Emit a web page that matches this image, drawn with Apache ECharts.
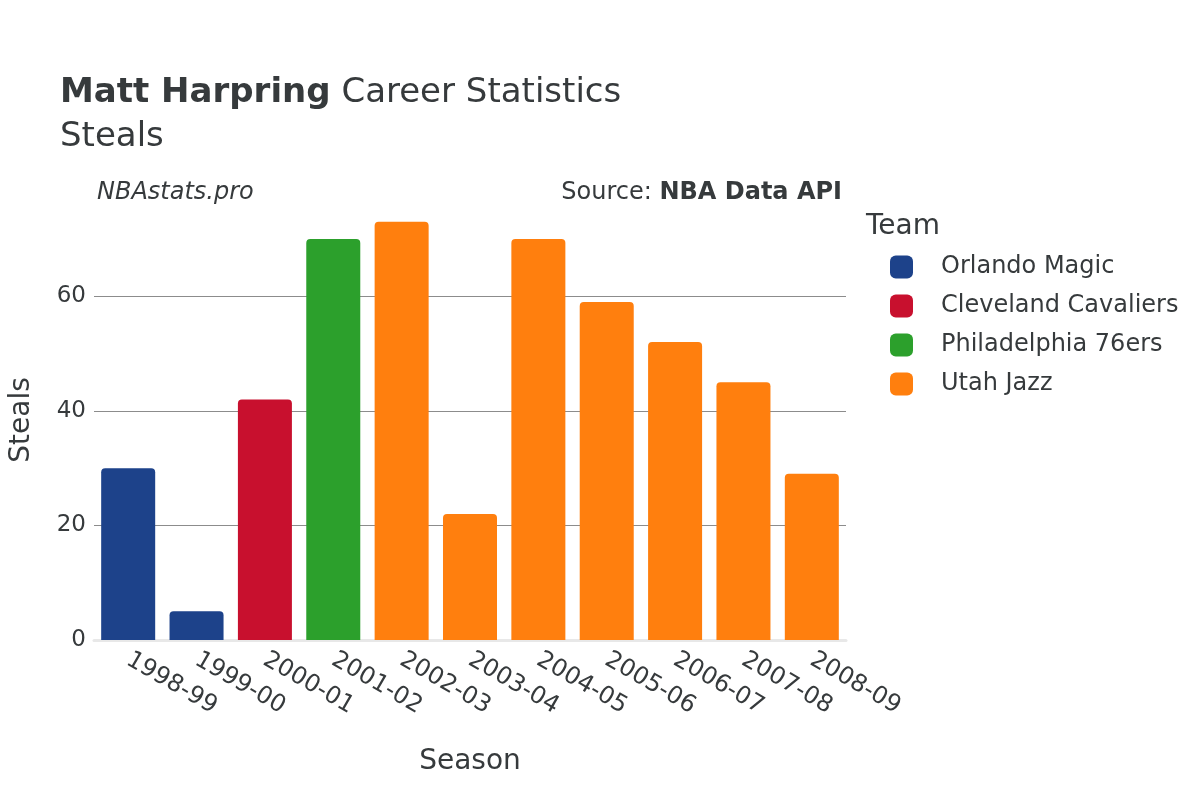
<!DOCTYPE html>
<html>
<head>
<meta charset="utf-8">
<script src="https://cdn.jsdelivr.net/npm/echarts@6/dist/echarts.min.js"></script>
<style>html,body{margin:0;padding:0;background:#fff}#c{width:1200px;height:800px}</style>
</head>
<body>
<div id="c"></div>
<script>
const seasons = ['1998-99','1999-00','2000-01','2001-02','2002-03','2003-04','2004-05','2005-06','2006-07','2007-08','2008-09'];
const teams = ['Orlando Magic','Cleveland Cavaliers','Philadelphia 76ers','Utah Jazz'];
const teamColors = ['#1d428a','#c8102e','#2ca02c','#ff7f0e'];
const seasonTeam = ['Orlando Magic','Orlando Magic','Cleveland Cavaliers','Philadelphia 76ers','Utah Jazz','Utah Jazz','Utah Jazz','Utah Jazz','Utah Jazz','Utah Jazz','Utah Jazz'];
const steals = [30, 5, 42, 70, 73, 22, 70, 59, 52, 45, 29];
const yTicks = [0, 20, 40, 60];

const FONT = 'DejaVu Sans';
const series = teams.map((t, i) => ({
  name: t,
  type: 'bar',
  stack: 'all',
  barCategoryGap: '21%',
  itemStyle: { color: teamColors[i], borderRadius: [4,4,0,0] },
  data: steals.map((v, j) => seasonTeam[j] === t ? v : null)
}));

const chart = echarts.init(document.getElementById('c'));
chart.setOption({
  animation: false,
  textStyle: { fontFamily: FONT },
  title: [
    { text: '{b|Matt Harpring} Career Statistics\nSteals', left: 55, top: 66,
      textStyle: { fontFamily: FONT, fontSize: 34, color: '#363a3c', fontWeight: 'normal', lineHeight: 44,
        rich: { b: { fontFamily: FONT, fontSize: 34, fontWeight: 'bold', color: '#363a3c' } } } },
    { text: 'NBAstats.pro', left: 92, top: 176,
      textStyle: { fontFamily: FONT, fontSize: 24, fontStyle: 'italic', fontWeight: 'normal', color: '#363a3c' } },
    { text: 'Source: {b|NBA Data API}', right: 353, top: 176,
      textStyle: { fontFamily: FONT, fontSize: 24, fontWeight: 'normal', color: '#363a3c',
        rich: { b: { fontFamily: FONT, fontSize: 24, fontWeight: 'bold', color: '#363a3c' } } } },
    { text: 'Team', left: 861, top: 208,
      textStyle: { fontFamily: FONT, fontSize: 28, fontWeight: 'normal', color: '#363a3c' } }
  ],
  legend: {
    orient: 'vertical', left: 885, top: 250, itemWidth: 23, itemHeight: 23, itemGap: 15,
    icon: 'roundRect',
    data: teams,
    textStyle: { fontFamily: FONT, fontSize: 24, color: '#363a3c', padding: [0,0,0,23] }
  },
  grid: { left: 92, right: 354, top: 200, bottom: 160, containLabel: false },
  xAxis: {
    type: 'category', data: seasons,
    name: 'Season', nameLocation: 'middle', nameGap: 108,
    nameTextStyle: { fontFamily: FONT, fontSize: 28, color: '#363a3c' },
    axisLine: { show: true, lineStyle: { color: '#e8e8e8', width: 3 } },
    axisTick: { show: false },
    axisLabel: { rotate: -30, fontFamily: FONT, fontSize: 24, color: '#363a3c', margin: 18 }
  },
  yAxis: {
    type: 'value', min: 0, max: 76.8, interval: 20,
    name: 'Steals', nameLocation: 'middle', nameGap: 58,
    nameTextStyle: { fontFamily: FONT, fontSize: 28, color: '#363a3c' },
    axisLine: { show: false }, axisTick: { show: false },
    axisLabel: { fontFamily: FONT, fontSize: 23, color: '#363a3c', margin: 8,
      formatter: v => yTicks.includes(v) ? String(v) : '' },
    splitLine: { showMaxLine: false, lineStyle: { color: '#8c8c8c', width: 1 } }
  },
  series: series
});
</script>
</body>
</html>
